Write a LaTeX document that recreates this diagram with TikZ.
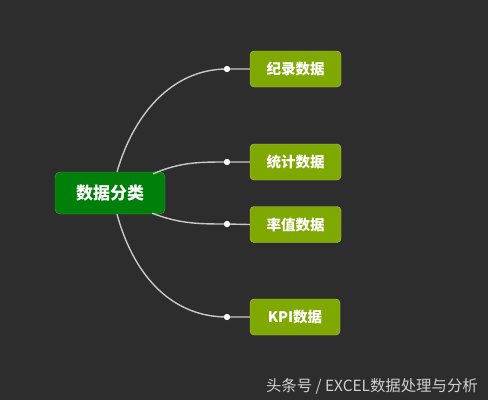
\documentclass[tikz,border=0pt]{standalone}
\usepackage{fontspec}
\newfontfamily\cjk{Noto Sans CJK SC}
\begin{document}
\begin{tikzpicture}[x=1pt,y=-1pt,
  root/.style={draw=rootb,fill=rootc,rounded corners=5pt,minimum width=110pt,minimum height=42pt,inner sep=0pt,text=white,font=\cjk\bfseries\fontsize{17}{19}\selectfont},
  leaf/.style={draw=leafb,fill=leafc,rounded corners=4pt,minimum width=91pt,minimum height=36pt,inner sep=0pt,text=white,font=\cjk\bfseries\fontsize{14.5}{16}\selectfont},
  dot/.style={circle,fill=white,inner sep=0pt,minimum size=6pt},
  link/.style={draw=linec,line width=1.4pt}]
\definecolor{bgc}{HTML}{2D2D2D}
\definecolor{rootc}{HTML}{007F0A}
\definecolor{rootb}{HTML}{3FA040}
\definecolor{leafc}{HTML}{7FA800}
\definecolor{leafb}{HTML}{B4CC66}
\definecolor{linec}{HTML}{C8C8C8}
\definecolor{wm}{HTML}{D0D0D0}
\fill[bgc] (0,0) rectangle (488,400);
\useasboundingbox (0,0) rectangle (488,400);
\node[root] (c) at (110,193) {数据分类};
\node[leaf] (a) at (295.5,69) {纪录数据};
\node[leaf] (b) at (295.5,162) {统计数据};
\node[leaf] (d) at (295.5,224.5) {率值数据};
\node[leaf,minimum width=90pt] (e) at (295,317) {KPI数据};
\node[dot] (da) at (227,69) {};
\node[dot] (db) at (227,162) {};
\node[dot] (dd) at (227,224) {};
\node[dot] (de) at (227,317) {};
\draw[link] ([xshift=7pt]c.north) .. controls (135,110) and (175,69) .. (da.center) -- (a.west);
\draw[link] ([xshift=-12pt,yshift=-2pt]c.north east) .. controls (180,162) and (200,162) .. (db.center) -- (b.west);
\draw[link] ([xshift=-13pt,yshift=1pt]c.south east) .. controls (180,224) and (200,224) .. (dd.center) -- (d.west);
\draw[link] ([xshift=7pt]c.south) .. controls (135,280) and (175,317) .. (de.center) -- (e.west);
\node[dot] at (da) {};
\node[dot] at (db) {};
\node[dot] at (dd) {};
\node[dot] at (de) {};
\node[anchor=east,text=wm,font=\cjk\fontsize{15.4}{17}\selectfont,inner sep=0pt] (w) at (478,386) {头条号 / EXCEL数据处理与分析};
\end{tikzpicture}
\end{document}
